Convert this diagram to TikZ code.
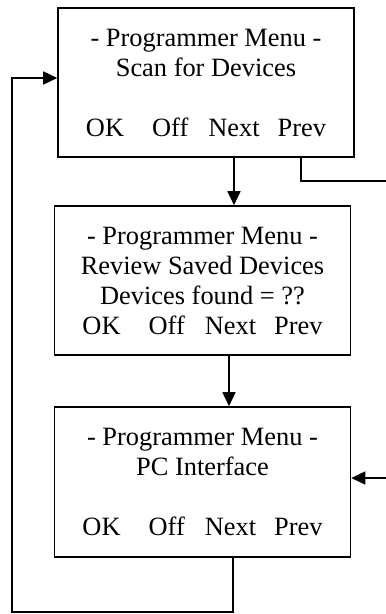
\documentclass[tikz,border=0pt]{standalone}
\usepackage{fontspec}
\setmainfont{Liberation Serif}
\usetikzlibrary{arrows.meta}
\begin{document}
\begin{tikzpicture}[x=1pt,y=-1pt,
  menubox/.style={draw, line width=1.6pt, inner sep=0pt, align=center,
    minimum width=296pt, minimum height=149pt,
    font=\fontsize{26.4}{30}\selectfont},
  conn/.style={line width=1.6pt},
  arr/.style={conn, -{Triangle[length=14pt,width=13pt]}}]
\useasboundingbox (0,0) rectangle (386,614);
\newcommand{\keys}{OK\hspace{28pt}Off\hspace{20pt}Next\hspace{18pt}Prev}
\node[menubox] (b1) at (206,82.5) {- Programmer Menu -\\Scan for Devices\\[30pt]\keys};
\node[menubox] (b2) at (202.5,280.5) {- Programmer Menu -\\Review Saved Devices\\Devices found = ??\\\keys};
\node[menubox, minimum height=150pt] (b3) at (202.5,482) {- Programmer Menu -\\PC Interface\\[30pt]\keys};
\coordinate (n1) at (234,0);
\coordinate (n2) at (229,0);
\coordinate (p1) at (301,181);
\coordinate (pe) at (386,181);
\coordinate (re) at (386,478);
\coordinate (q1) at (233,612);
\coordinate (q2) at (12,612);
\coordinate (q3) at (12,78);
\draw[arr] (b1.south -| n1) -- (b2.north -| n1);
\draw[arr] (b2.south -| n2) -- (b3.north -| n2);
\draw[conn] (b1.south -| p1) -- (p1) -- (pe);
\draw[arr] (re) -- (b3.east |- re);
\draw[arr] (b3.south -| q1) -- (q1) -- (q2) -- (q3) -- (b1.west |- q3);
\end{tikzpicture}
\end{document}
